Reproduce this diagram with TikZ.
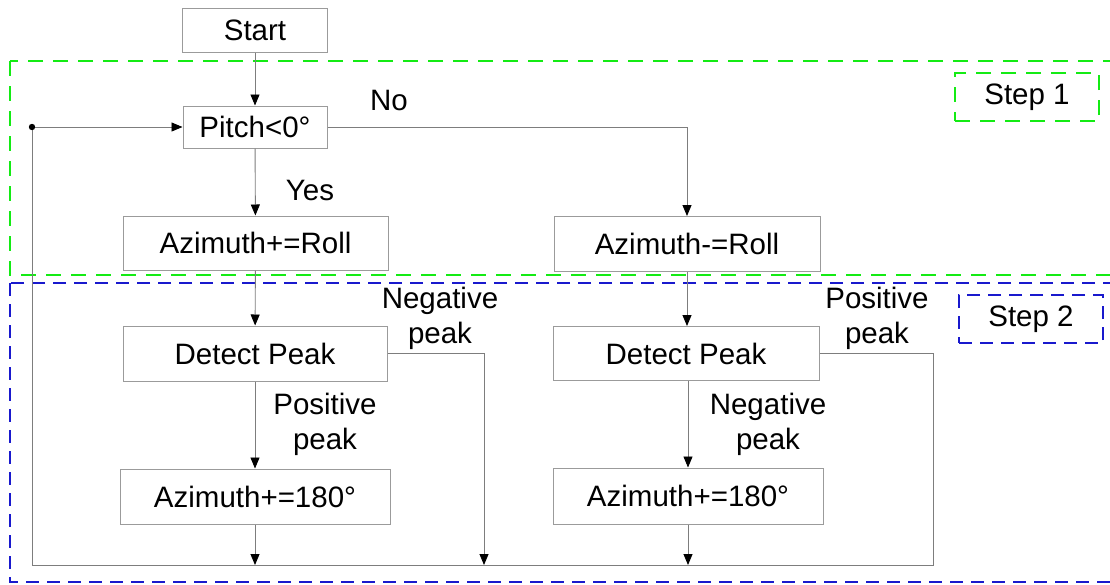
\documentclass[tikz,border=0pt]{standalone}
\usepackage{fontspec}
\setmainfont{Liberation Sans}
\usetikzlibrary{arrows.meta}
\definecolor{boxgray}{RGB}{155,155,155}
\definecolor{linegray}{RGB}{125,125,125}
\definecolor{stepgreen}{RGB}{20,235,20}
\definecolor{stepblue}{RGB}{25,25,205}
\tikzset{
  every node/.style={font=\fontsize{29.5}{34.5}\selectfont},
  flowbox/.style={draw=boxgray, line width=1pt, fill=white, inner sep=0pt,
    text height=21pt, text depth=0pt},
  conn/.style={draw=linegray, line width=0.9pt},
  arr/.style={conn, -{Triangle[length=11pt,width=9pt,black]}},
  lbl/.style={anchor=base, align=center, inner sep=0pt},
  greenzone/.style={draw=stepgreen, line width=2pt, dash pattern=on 15pt off 10pt},
  bluezone/.style={draw=stepblue, line width=2pt, dash pattern=on 13pt off 8pt},
}
\begin{document}
\begin{tikzpicture}[x=1pt,y=-1pt]
\useasboundingbox (0,0) rectangle (1110,584);
\fill[white] (0,0) rectangle (1110,584);

% stage frames
\draw[greenzone] (10,61) rectangle (1125,275);
\draw[bluezone] (10,283) rectangle (1125,582);
\node[greenzone, minimum width=144pt, minimum height=48pt, inner sep=0pt] (s1) at (1027,97) {Step 1};
\node[bluezone, minimum width=144pt, minimum height=48pt, inner sep=0pt] (s2) at (1031,319) {Step 2};

% process boxes
\node[flowbox, minimum width=145pt, minimum height=44pt] (start) at (255,30) {Start};
\node[flowbox, minimum width=144pt, minimum height=42pt] (pitch) at (255,127) {Pitch<0°};
\node[flowbox, minimum width=265pt, minimum height=54pt] (azp) at (255.5,243) {Azimuth+=Roll};
\node[flowbox, minimum width=266pt, minimum height=55pt] (azm) at (687,244) {Azimuth-=Roll};
\node[flowbox, minimum width=264pt, minimum height=55pt] (dpl) at (255,353.5) {Detect Peak};
\node[flowbox, minimum width=266pt, minimum height=54pt] (dpr) at (686,353.5) {Detect Peak};
\node[flowbox, minimum width=270pt, minimum height=55pt] (afl) at (255,496.5) {Azimuth+=180°};
\node[flowbox, minimum width=270pt, minimum height=56pt] (afr) at (688,496) {Azimuth+=180°};

% loop junctions
\coordinate (loop) at (32,127);
\coordinate (bottom) at (32,565);
\coordinate (noturn) at (687,127);
\coordinate (negl) at (484,353.5);
\coordinate (posr) at (933,353.5);

% connectors
\draw[arr] (start) -- (pitch);
\draw[arr] (pitch) -- (azp);
\draw[arr] (pitch.east) -- (noturn) -- (azm.north);
\draw[arr] (azp) -- (dpl);
\draw[arr] (azm) -- (azm |- dpr.north);
\draw[arr] (dpl) -- (afl);
\draw[arr] (dpr.south -| afr) -- (afr.north);
\draw[arr] (dpl.east) -- (negl) -- (negl |- bottom);
\draw[arr] (afl.south) -- (afl.south |- bottom);
\draw[arr] (afr.south) -- (afr.south |- bottom);
\draw[conn] (dpr.east) -- (posr) -- (posr |- bottom) -- (bottom) -- (loop);
\draw[arr] (loop) -- (pitch.west);
\fill (loop) circle (3.2pt);

% branch labels (anchored on the baseline of the last line)
\node[lbl] (no) at (389,110) {No};
\node[lbl] (yes) at (310,200) {Yes};
\node[lbl] (negtop) at (440,343) {Negative\\peak};
\node[lbl] (postop) at (877,343) {Positive\\peak};
\node[lbl] (posbot) at (325,449) {Positive\\peak};
\node[lbl] (negbot) at (768,449) {Negative\\peak};
\end{tikzpicture}
\end{document}
